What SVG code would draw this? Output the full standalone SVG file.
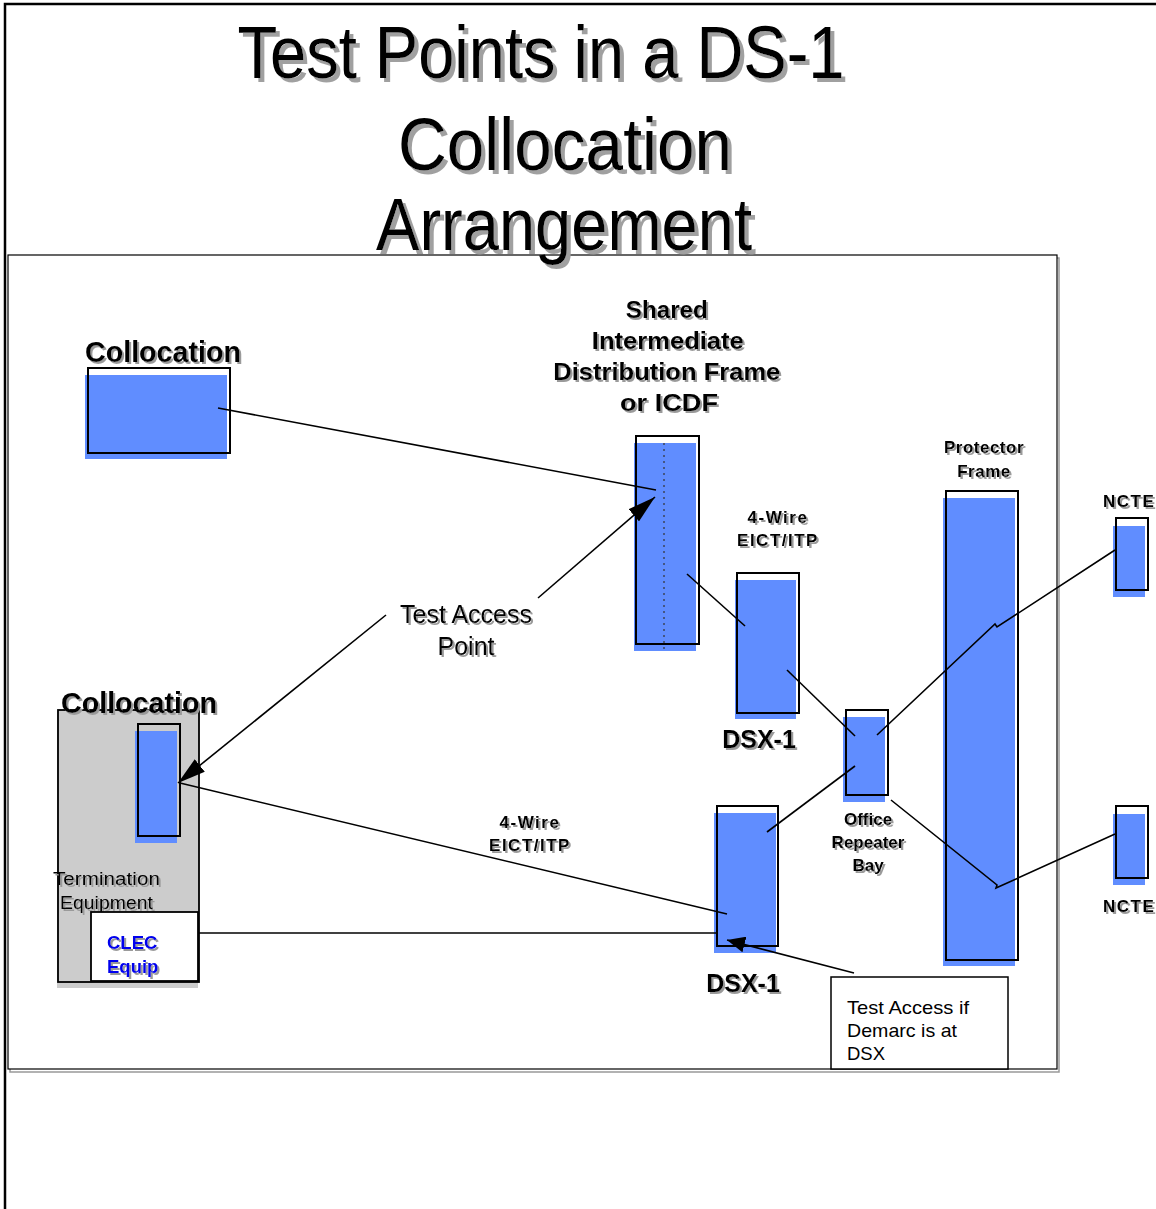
<svg xmlns="http://www.w3.org/2000/svg" width="1156" height="1209" viewBox="0 0 1156 1209">
<style>
text{font-family:"Liberation Sans",Arial,sans-serif;fill:#000}
.t{font-size:74px;filter:url(#shT)}
.b{font-weight:bold}
.lbl{font-weight:bold;font-size:17px;filter:url(#sh)}
.blue{fill:#608dff;stroke:none}
.ol{fill:none;stroke:#000;stroke-width:2}
.ln{fill:none;stroke:#000;stroke-width:1.6}
</style>
<defs>
<filter id="sh" x="-10%" y="-10%" width="130%" height="140%">
<feOffset in="SourceAlpha" dx="2" dy="2" result="o"/>
<feFlood flood-color="#9a9a9a"/>
<feComposite in2="o" operator="in" result="s"/>
<feMerge><feMergeNode in="s"/><feMergeNode in="SourceGraphic"/></feMerge>
</filter>
<filter id="shT" x="-10%" y="-10%" width="130%" height="140%">
<feOffset in="SourceAlpha" dx="4" dy="4" result="o"/>
<feFlood flood-color="#a0a0a0"/>
<feComposite in2="o" operator="in" result="s"/>
<feMerge><feMergeNode in="s"/><feMergeNode in="SourceGraphic"/></feMerge>
</filter>
<marker id="arr" viewBox="0 0 28 16" refX="28" refY="8" markerWidth="28" markerHeight="16" markerUnits="userSpaceOnUse" orient="auto">
<path d="M0,0 L28,8 L0,16 z" fill="#000"/>
</marker>
<marker id="arrS" viewBox="0 0 18 16" refX="18" refY="8" markerWidth="18" markerHeight="16" markerUnits="userSpaceOnUse" orient="auto">
<path d="M0,0 L18,8 L0,16 z" fill="#000"/>
</marker>
</defs>
<rect width="1156" height="1209" fill="#fff"/>
<path d="M5,1209 V4 H1156" fill="none" stroke="#000" stroke-width="2.5"/>
<g id="frame">
<rect x="10" y="258" width="1049" height="814" fill="none" stroke="#999" stroke-width="1.5"/>
<rect x="8" y="255" width="1049" height="814" fill="#fff" stroke="#000" stroke-width="1.2"/>
</g>
<g id="title">
<text class="t" x="541" y="78" text-anchor="middle" textLength="607" lengthAdjust="spacingAndGlyphs">Test Points in a DS-1</text>
<text class="t" x="565" y="170" text-anchor="middle" textLength="334" lengthAdjust="spacingAndGlyphs">Collocation</text>
<text class="t" x="564" y="250" text-anchor="middle" textLength="376" lengthAdjust="spacingAndGlyphs">Arrangement</text>
</g>
<g id="collocation1">
<text class="b" x="85" y="362" font-size="29" textLength="156" lengthAdjust="spacingAndGlyphs" filter="url(#sh)">Collocation</text>
<rect class="blue" x="85" y="375" width="142" height="84"/>
<rect class="ol" x="88" y="368" width="142" height="85"/>
</g>
<g id="idf">
<text class="b" font-size="23" text-anchor="middle" filter="url(#sh)">
<tspan x="670" y="318" textLength="82" lengthAdjust="spacingAndGlyphs">Shared</tspan>
<tspan x="671" y="349" textLength="152" lengthAdjust="spacingAndGlyphs">Intermediate</tspan>
<tspan x="670" y="380" textLength="227" lengthAdjust="spacingAndGlyphs">Distribution Frame</tspan>
<tspan x="669" y="411" textLength="98" lengthAdjust="spacingAndGlyphs">or ICDF</tspan>
</text>
<rect class="blue" x="634" y="443" width="62" height="208"/>
<rect class="ol" x="636" y="436" width="63" height="208"/>
<line x1="664" y1="443" x2="664" y2="651" stroke="#333" stroke-width="1.2" stroke-dasharray="2,4"/>
</g>
<g id="eict1">
<text class="lbl" text-anchor="middle" letter-spacing="1.5"><tspan x="778" y="523">4-Wire</tspan><tspan x="778" y="546">EICT/ITP</tspan></text>
</g>
<g id="dsx1top">
<rect class="blue" x="735" y="580" width="61" height="139"/>
<rect class="ol" x="737" y="573" width="62" height="140"/>
<text class="b" x="759" y="748" font-size="25" text-anchor="middle" filter="url(#sh)">DSX-1</text>
</g>
<g id="orb">
<rect class="blue" x="843" y="717" width="42" height="85"/>
<rect class="ol" x="846" y="710" width="42" height="85"/>
<text class="lbl" text-anchor="middle"><tspan x="868" y="825">Office</tspan><tspan x="868" y="848">Repeater</tspan><tspan x="868" y="871">Bay</tspan></text>
</g>
<g id="protector">
<text class="lbl" text-anchor="middle" letter-spacing="0.5"><tspan x="984" y="453">Protector</tspan><tspan x="984" y="477">Frame</tspan></text>
<rect class="blue" x="943" y="498" width="72" height="468"/>
<rect class="ol" x="946" y="491" width="72" height="469"/>
</g>
<g id="ncte1">
<text class="lbl" x="1103" y="507" letter-spacing="1.5">NCTE</text>
<rect class="blue" x="1113" y="526" width="32" height="71"/>
<rect class="ol" x="1116" y="518" width="32" height="72"/>
</g>
<g id="ncte2">
<rect class="blue" x="1113" y="814" width="32" height="71"/>
<rect class="ol" x="1116" y="806" width="32" height="72"/>
<text class="lbl" x="1103" y="912" letter-spacing="1.5">NCTE</text>
</g>
<g id="dsx1bottom">
<rect class="blue" x="714" y="813" width="62" height="140"/>
<rect class="ol" x="717" y="806" width="61" height="140"/>
<text class="b" x="743" y="992" font-size="25" text-anchor="middle" filter="url(#sh)">DSX-1</text>
</g>
<g id="eict2">
<text class="lbl" text-anchor="middle" letter-spacing="1.5"><tspan x="530" y="828">4-Wire</tspan><tspan x="530" y="851">EICT/ITP</tspan></text>
</g>
<g id="collocation2">
<rect x="57" y="711" width="141" height="277" fill="#cccccc"/>
<rect x="58" y="710" width="141" height="272" fill="#cccccc" stroke="#000" stroke-width="1.8"/>
<text class="b" x="61" y="713" font-size="29" textLength="156" lengthAdjust="spacingAndGlyphs" filter="url(#sh)">Collocation</text>
<rect class="blue" x="135" y="731" width="42" height="112"/>
<rect class="ol" x="138" y="724" width="42" height="112"/>
<text font-size="17.5" filter="url(#sh)"><tspan x="53" y="885" textLength="107" lengthAdjust="spacingAndGlyphs">Termination</tspan><tspan x="60" y="909" textLength="93" lengthAdjust="spacingAndGlyphs">Equipment</tspan></text>
</g>
<g id="clec">
<rect x="91" y="912" width="107" height="69" fill="#fff" stroke="#000" stroke-width="1.8"/>
<text class="b" font-size="18.5" style="fill:#0000ee" filter="url(#sh)"><tspan x="107" y="949">CLEC</tspan><tspan x="107" y="973">Equip</tspan></text>
</g>
<g id="testaccesspoint">
<text font-size="26" text-anchor="middle" filter="url(#sh)"><tspan x="466" y="623" textLength="132" lengthAdjust="spacingAndGlyphs">Test Access</tspan><tspan x="466" y="655" textLength="57" lengthAdjust="spacingAndGlyphs">Point</tspan></text>
</g>
<g id="demarcnote">
<rect x="831" y="977" width="177" height="92" fill="#fff" stroke="#000" stroke-width="1.5"/>
<text font-size="18.5"><tspan x="847" y="1014" textLength="122" lengthAdjust="spacingAndGlyphs">Test Access if</tspan><tspan x="847" y="1037" textLength="110" lengthAdjust="spacingAndGlyphs">Demarc is at</tspan><tspan x="847" y="1060">DSX</tspan></text>
</g>
<g id="connectors">
<line class="ln" x1="218" y1="408" x2="656" y2="490"/>
<line class="ln" x1="538" y1="598" x2="655" y2="497" marker-end="url(#arr)"/>
<line class="ln" x1="386" y1="615" x2="178" y2="783" marker-end="url(#arr)"/>
<line class="ln" x1="180" y1="783" x2="727" y2="914"/>
<line class="ln" x1="687" y1="574" x2="745" y2="626"/>
<line class="ln" x1="787" y1="670" x2="855" y2="736"/>
<polyline class="ln" points="877,735 995,624 997,627 1115,550"/>
<line class="ln" x1="855" y1="766" x2="767" y2="832"/>
<polyline class="ln" points="891,800 997,885 996,888 1115,834"/>
<line class="ln" x1="199" y1="933" x2="716" y2="933"/>
<line class="ln" x1="854" y1="973" x2="727" y2="940" marker-end="url(#arrS)"/>
</g>
</svg>
